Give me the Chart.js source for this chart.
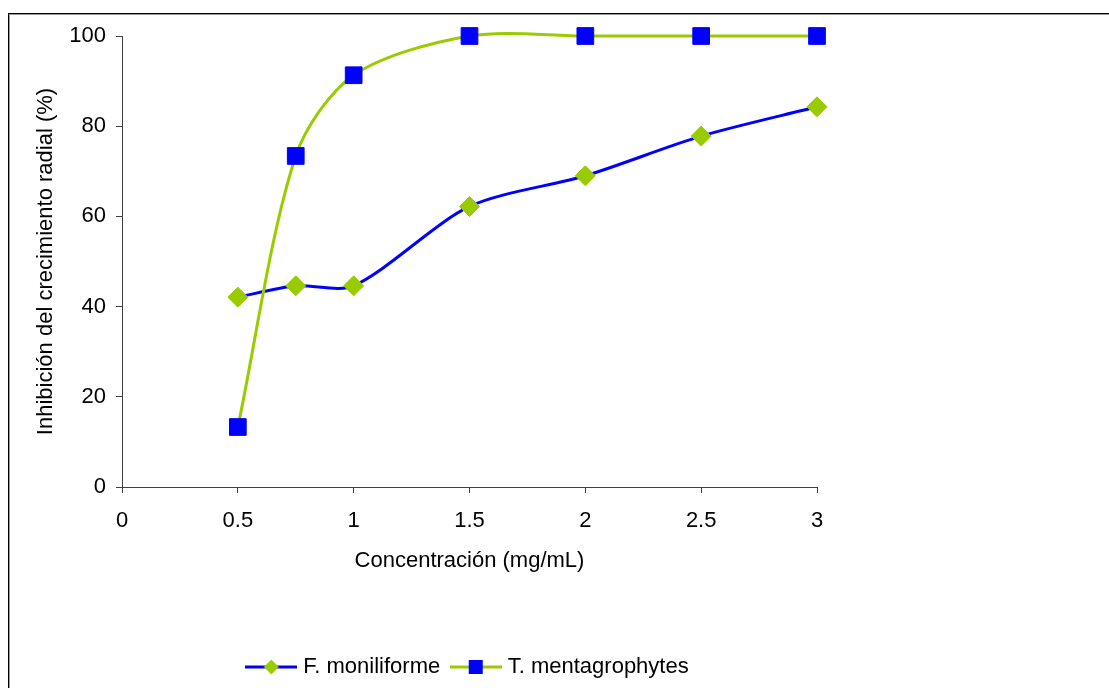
<!DOCTYPE html>
<html>
<head>
<meta charset="utf-8">
<script src="https://cdn.jsdelivr.net/npm/chart.js@4/dist/chart.umd.min.js"></script>
<style>
  html, body { margin: 0; padding: 0; background: #fff; overflow: hidden; width: 1109px; height: 688px; }
  #frame { position: absolute; left: 8px; top: 13px; width: 1200px; height: 800px;
           border-top: 1px solid #000; border-left: 1px solid #000; box-shadow: inset 1px 1px 0 #9a9a9a; }
  #wrap { position: absolute; left: 0; top: 0; width: 939px; height: 688px; }
</style>
</head>
<body>
<div id="frame"></div>
<div id="wrap"><canvas id="c"></canvas></div>
<script>
const concentrations = [0.5, 0.75, 1, 1.5, 2, 2.5, 3];
const fMoniliforme = [42.1, 44.6, 44.6, 62.2, 69.0, 77.8, 84.3];
const tMentagrophytes = [13.3, 73.4, 91.3, 100, 100, 100, 100];
const seriesNames = ['F. moniliforme', 'T. mentagrophytes'];
const xTicks = [0, 0.5, 1, 1.5, 2, 2.5, 3];
const xTickLabels = ['0', '0.5', '1', '1.5', '2', '2.5', '3'];
const yTicks = [0, 20, 40, 60, 80, 100];
const yTickLabels = ['0', '20', '40', '60', '80', '100'];

const BLUE = '#0000FF';
const GREEN = '#99CC00';
const FONT = 'Liberation Sans, Arial, sans-serif';
const FS = 22;
const AXIS = '#404040';

function legendImage(lineColor, markerColor, shape) {
  const cv = document.createElement('canvas');
  cv.width = 52; cv.height = 20;
  const g = cv.getContext('2d');
  g.strokeStyle = lineColor; g.lineWidth = 3;
  g.beginPath(); g.moveTo(0, 10); g.lineTo(52, 10); g.stroke();
  g.fillStyle = markerColor;
  if (shape === 'diamond') {
    g.beginPath(); g.moveTo(26, 2.5); g.lineTo(33.5, 10); g.lineTo(26, 17.5); g.lineTo(18.5, 10); g.closePath(); g.fill();
  } else {
    g.fillRect(19, 3, 14, 14);
  }
  return cv;
}
const legImgs = [legendImage(BLUE, GREEN, 'diamond'), legendImage(GREEN, BLUE, 'square')];

const toPts = (xs, ys) => xs.map((x, i) => ({x: x, y: ys[i]}));

new Chart(document.getElementById('c'), {
  type: 'line',
  data: {
    datasets: [
      {
        label: seriesNames[0],
        data: toPts(concentrations, fMoniliforme),
        borderColor: BLUE, borderWidth: 3,
        pointStyle: 'rectRot', pointRadius: 10, pointHoverRadius: 10,
        pointBackgroundColor: GREEN, pointBorderColor: GREEN, pointBorderWidth: 1,
        tension: 0.28, order: 1, fill: false, clip: false
      },
      {
        label: seriesNames[1],
        data: toPts(concentrations, tMentagrophytes),
        borderColor: GREEN, borderWidth: 3,
        pointStyle: 'rect', pointRadius: 11.8, pointHoverRadius: 11.8,
        pointBackgroundColor: BLUE, pointBorderColor: BLUE, pointBorderWidth: 1,
        tension: 0.3, order: 0, fill: false, clip: false
      }
    ]
  },
  options: {
    responsive: true,
    maintainAspectRatio: false,
    animation: false,
    elements: { line: { capBezierPoints: false } },
    layout: { padding: { top: 36, left: 0, right: 0, bottom: 0 } },
    plugins: {
      tooltip: { enabled: false },
      legend: {
        position: 'bottom',
        labels: {
          usePointStyle: true,
          pointStyleWidth: 42,
          padding: 14.5,
          color: '#000',
          font: { family: FONT, size: FS },
          generateLabels: (chart) => {
            const items = Chart.defaults.plugins.legend.labels.generateLabels(chart);
            items.forEach(it => { it.pointStyle = legImgs[it.datasetIndex]; });
            items.sort((a, b) => a.datasetIndex - b.datasetIndex);
            return items;
          }
        }
      }
    },
    scales: {
      x: {
        type: 'linear',
        min: 0, max: 3,
        afterBuildTicks: (s) => { s.ticks = xTicks.map(v => ({value: v})); },
        afterFit: (s) => { s.height = 154.5; },
        grid: { display: true, drawOnChartArea: false, drawTicks: true, tickLength: 6, color: AXIS },
        border: { display: true, color: AXIS, width: 1 },
        ticks: { color: '#000', font: { family: FONT, size: FS }, padding: 15, maxRotation: 0,
                 callback: (v, i) => xTickLabels[i] },
        title: { display: true, text: 'Concentración (mg/mL)', color: '#000',
                 font: { family: FONT, size: FS }, padding: { top: 0, bottom: 67 } }
      },
      y: {
        type: 'linear',
        position: 'left',
        min: 0, max: 100,
        afterBuildTicks: (s) => { s.ticks = yTicks.map(v => ({value: v})); },
        afterFit: (s) => { s.width = 122; },
        grid: { display: true, drawOnChartArea: false, drawTicks: true, tickLength: 6, color: AXIS },
        border: { display: true, color: AXIS, width: 1 },
        ticks: { color: '#000', font: { family: FONT, size: FS }, padding: 10,
                 callback: (v, i) => yTickLabels[i] },
        title: { display: true, text: 'Inhibición del crecimiento radial (%)', color: '#000',
                 font: { family: FONT, size: FS }, padding: { top: 32.5, bottom: 0 } }
      },
      yRight: {
        type: 'linear',
        position: 'right',
        display: true,
        afterFit: (s) => { s.width = 122; },
        grid: { display: false },
        border: { display: false },
        ticks: { display: false },
        title: { display: false }
      }
    }
  }
});
</script>
</body>
</html>
